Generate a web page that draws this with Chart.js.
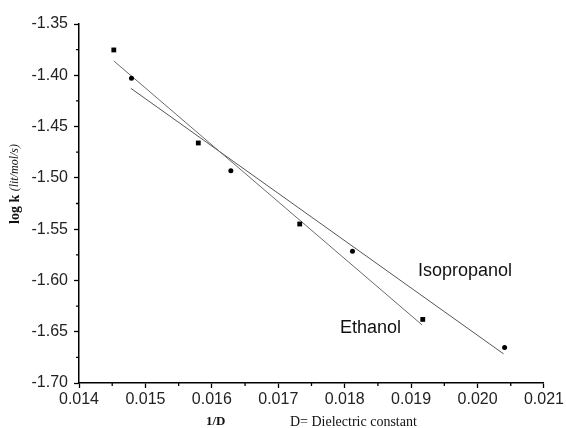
<!DOCTYPE html>
<html>
<head>
<meta charset="utf-8">
<script src="https://cdn.jsdelivr.net/npm/chart.js@4"></script>
<style>
  html, body { margin: 0; padding: 0; background: #fff; }
  #wrap { width: 566px; height: 428px; }
</style>
</head>
<body>
<div id="wrap"><canvas id="chart" width="566" height="428"></canvas></div>
<script>
// data
const ethanolX = [0.014524, 0.015796, 0.017323, 0.019175];
const ethanolY = [-1.3753, -1.4660, -1.5450, -1.6380];
const isoX = [0.014790, 0.016286, 0.018117, 0.020407];
const isoY = [-1.4030, -1.4930, -1.5715, -1.6655];
// fitted lines, endpoints
const ethanolFitX = [0.014524, 0.019165];
const ethanolFitY = [-1.3860, -1.6434];
const isoFitX = [0.014780, 0.020392];
const isoFitY = [-1.4127, -1.6716];
const xTicks = [0.014, 0.015, 0.016, 0.017, 0.018, 0.019, 0.020, 0.021];
const yTicks = [-1.70, -1.65, -1.60, -1.55, -1.50, -1.45, -1.40, -1.35];

const pts = (xs, ys) => xs.map((x, i) => ({ x, y: ys[i] }));
const tickFont = { family: 'Liberation Sans, Arial, sans-serif', size: 16 };

// minor ticks halfway between labelled ones + text annotations
const extras = {
  id: 'extras',
  afterDraw(chart) {
    const ctx = chart.ctx;
    const xs = chart.scales.x, ys = chart.scales.y;
    ctx.save();
    ctx.strokeStyle = '#000';
    ctx.lineWidth = 1.3;
    ctx.beginPath();
    for (let i = 0; i < xTicks.length - 1; i++) {
      const px = xs.getPixelForValue((xTicks[i] + xTicks[i + 1]) / 2);
      ctx.moveTo(px, xs.top);
      ctx.lineTo(px, xs.top + 3);
    }
    for (let i = 0; i < yTicks.length - 1; i++) {
      const py = ys.getPixelForValue((yTicks[i] + yTicks[i + 1]) / 2);
      ctx.moveTo(ys.right, py);
      ctx.lineTo(ys.right - 3, py);
    }
    ctx.stroke();

    // series names
    ctx.fillStyle = '#111';
    ctx.font = '18px Liberation Sans, Arial, sans-serif';
    ctx.textBaseline = 'middle';
    ctx.textAlign = 'left';
    ctx.fillText('Isopropanol', 418, 271);
    ctx.fillText('Ethanol', 340, 328);

    // x title
    ctx.font = 'bold 13px Liberation Serif, Times New Roman, serif';
    ctx.fillText('1/D', 206, 422);
    ctx.font = '14px Liberation Serif, Times New Roman, serif';
    ctx.fillText('D= Dielectric constant', 290, 422);

    // y title
    ctx.translate(15, 224);
    ctx.rotate(-Math.PI / 2);
    ctx.font = 'bold 14px Liberation Serif, Times New Roman, serif';
    ctx.fillText('log k', 0, 0);
    const w = ctx.measureText('log k ').width;
    ctx.font = 'italic 12px Liberation Serif, Times New Roman, serif';
    ctx.fillText('(lit/mol/s)', w, 0);
    ctx.restore();
  }
};

new Chart(document.getElementById('chart'), {
  type: 'scatter',
  data: {
    datasets: [
      { label: 'Ethanol', data: pts(ethanolX, ethanolY), pointStyle: 'rect', pointRadius: 3.4,
        backgroundColor: '#000', borderColor: '#000', borderWidth: 0 },
      { label: 'Isopropanol', data: pts(isoX, isoY), pointStyle: 'circle', pointRadius: 2.5,
        backgroundColor: '#000', borderColor: '#000', borderWidth: 0 },
      { label: 'Ethanol fit', data: pts(ethanolFitX, ethanolFitY), showLine: true, pointRadius: 0,
        borderColor: '#6a6a6a', borderWidth: 1 },
      { label: 'Isopropanol fit', data: pts(isoFitX, isoFitY), showLine: true, pointRadius: 0,
        borderColor: '#555', borderWidth: 1 }
    ]
  },
  options: {
    responsive: false,
    animation: false,
    events: [],
    layout: { padding: { left: 0, top: 24, right: 19, bottom: 0 } },
    plugins: { legend: { display: false }, tooltip: { enabled: false } },
    scales: {
      x: {
        type: 'linear', min: 0.014, max: 0.021,
        afterBuildTicks: (s) => { s.ticks = xTicks.map(v => ({ value: v })); },
        afterFit: (s) => { s.height = 45; },
        border: { display: true, color: '#000', width: 1.5 },
        grid: { drawOnChartArea: false, drawTicks: true, tickLength: 5, tickColor: '#000', tickWidth: 1.3 },
        ticks: { color: '#222', font: tickFont, padding: 2, maxRotation: 0,
          callback: (v) => v.toFixed(3) }
      },
      y: {
        type: 'linear', min: -1.70, max: -1.35,
        afterBuildTicks: (s) => { s.ticks = yTicks.map(v => ({ value: v })); },
        afterFit: (s) => { s.width = 79; },
        border: { display: true, color: '#000', width: 1.5 },
        grid: { drawOnChartArea: false, drawTicks: true, tickLength: 5, tickColor: '#000', tickWidth: 1.3 },
        ticks: { color: '#222', font: tickFont, padding: 6,
          callback: (v) => v.toFixed(2) }
      }
    }
  },
  plugins: [extras]
});
</script>
</body>
</html>
